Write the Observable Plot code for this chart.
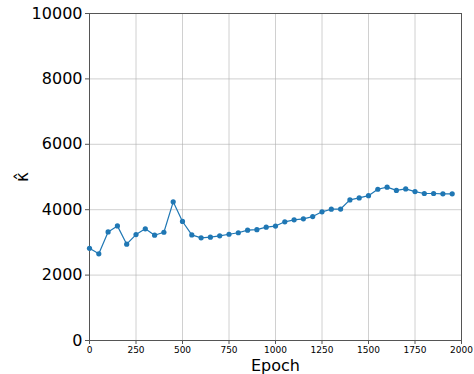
<!DOCTYPE html>
<html>
<head>
<meta charset="utf-8">
<script src="https://cdn.jsdelivr.net/npm/d3@7"></script>
<script src="https://cdn.jsdelivr.net/npm/@observablehq/plot@0.6"></script>
<style>
  html, body { margin: 0; padding: 0; background: #fff; }
  svg { font-family: "DejaVu Sans", sans-serif; }
  .ylab text { font-style: italic; }
</style>
</head>
<body>
<div id="chart"></div>
<script>
const epochs = [0,50,100,150,200,250,300,350,400,450,500,550,600,650,700,750,800,850,900,950,
  1000,1050,1100,1150,1200,1250,1300,1350,1400,1450,1500,1550,1600,1650,1700,1750,1800,1850,1900,1950];
const kappa = [2820,2650,3320,3505,2945,3240,3415,3220,3310,4240,3640,3230,3140,3160,3200,3250,3295,3375,3390,3465,
  3500,3630,3690,3720,3790,3935,4015,4020,4300,4360,4430,4625,4690,4590,4635,4555,4495,4495,4485,4485];
const xTicks = [0,250,500,750,1000,1250,1500,1750,2000];
const yTicks = [0,2000,4000,6000,8000,10000];

const data = epochs.map((e, i) => ({epoch: e, kappa: kappa[i]}));
const color = "#1f77b4";
const fmt = d3.format("d");

const chart = Plot.plot({
  width: 474,
  height: 374,
  marginLeft: 89,
  marginRight: 13,
  marginTop: 13,
  marginBottom: 34,
  style: {fontFamily: "DejaVu Sans, sans-serif", color: "#000", background: "#fff"},
  x: {domain: [0, 2000]},
  y: {domain: [0, 10000]},
  marks: [
    Plot.gridX(xTicks, {stroke: "#b0b0b0", strokeOpacity: 0.6}),
    Plot.gridY(yTicks, {stroke: "#b0b0b0", strokeOpacity: 0.6}),
    Plot.frame({stroke: "#555"}),
    Plot.axisX({ticks: xTicks, tickSize: 4, tickPadding: 2, fontSize: 9, tickFormat: fmt, label: null, stroke: "#555"}),
    Plot.axisX({ticks: xTicks, tickSize: 0, tickFormat: () => "", fontSize: 16, label: "Epoch", labelAnchor: "center", labelArrow: "none", labelOffset: 30}),
    Plot.axisY({ticks: yTicks, tickSize: 4, tickPadding: 3, fontSize: 16, tickFormat: fmt, label: null, stroke: "#555"}),
    Plot.axisY({ticks: yTicks, tickSize: 0, tickFormat: () => "", fontSize: 17, label: "κ\u0302", labelAnchor: "center", labelArrow: "none", labelOffset: 74, className: "ylab"}),
    Plot.line(data, {x: "epoch", y: "kappa", stroke: color, strokeWidth: 1.2}),
    Plot.dot(data, {x: "epoch", y: "kappa", fill: color, r: 2.6})
  ]
});
document.getElementById("chart").appendChild(chart);
</script>
</body>
</html>
